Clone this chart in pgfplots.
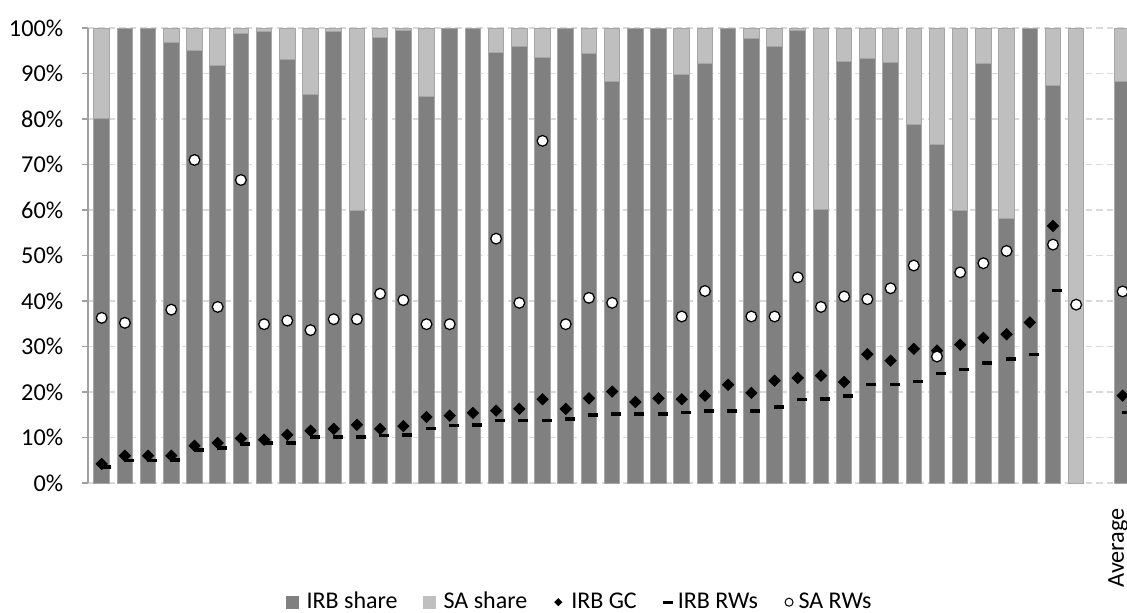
\documentclass[border=0pt]{standalone}
\usepackage{pgfplots}
\usepackage{pgfplotstable}
\pgfplotsset{compat=1.18}
\usepackage{fontspec}
\setmainfont{Carlito}
\definecolor{irb}{HTML}{808080}
\definecolor{sa}{HTML}{BFBFBF}
\definecolor{baredge}{HTML}{A6A6A6}
\definecolor{gridc}{HTML}{D9D9D9}
\definecolor{axisc}{HTML}{A0A0A0}

\pgfplotstableread{
x irb sa
0 80.2 19.8
1 100 0
2 100 0
3 96.8 3.2
4 95.1 4.9
5 91.8 8.2
6 98.9 1.1
7 99.2 0.8
8 93.0 7.0
9 85.3 14.7
10 99.2 0.8
11 60.0 40.0
12 97.9 2.1
13 99.4 0.6
14 84.9 15.1
15 100 0
16 100 0
17 94.7 5.3
18 96.0 4.0
19 93.5 6.5
20 100 0
21 94.3 5.7
22 88.3 11.7
23 100 0
24 100 0
25 89.7 10.3
26 92.1 7.9
27 100 0
28 97.6 2.4
29 96.0 4.0
30 99.4 0.6
31 60.2 39.8
32 92.7 7.3
33 93.2 6.8
34 92.4 7.6
35 78.8 21.2
36 74.4 25.6
37 60.0 40.0
38 92.1 7.9
39 58.1 41.9
40 100 0
41 87.3 12.7
42 0 100
44 88.2 11.8
}\shares

\pgfplotstableread{
x y
0 4.2
1 6.0
2 6.0
3 6.0
4 8.2
5 8.8
6 9.8
7 9.5
8 10.6
9 11.5
10 11.9
11 12.8
12 11.9
13 12.5
14 14.5
15 14.8
16 15.4
17 15.9
18 16.3
19 18.4
20 16.3
21 18.6
22 20.1
23 17.8
24 18.6
25 18.4
26 19.2
27 21.6
28 19.8
29 22.5
30 23.1
31 23.6
32 22.2
33 28.3
34 26.9
35 29.5
36 29.1
37 30.4
38 31.9
39 32.7
40 35.3
41 56.5
44 19.2
}\irbgc

\pgfplotstableread{
x y
0 3.5
1 4.9
2 4.9
3 5.1
4 7.3
5 7.7
6 8.6
7 8.8
8 8.8
9 10.1
10 10.1
11 10.1
12 10.4
13 10.6
14 12.0
15 12.6
16 12.8
17 13.7
18 13.7
19 13.7
20 14.1
21 15.0
22 15.2
23 15.2
24 15.2
25 15.5
26 15.8
27 15.8
28 15.8
29 16.7
30 18.3
31 18.5
32 19.1
33 21.7
34 21.7
35 22.3
36 24.1
37 25.0
38 26.4
39 27.3
40 28.2
41 42.3
44 15.5
}\irbrw

\pgfplotstableread{
x y
0 36.3
1 35.2
3 38.1
4 71.0
5 38.7
6 66.6
7 34.9
8 35.7
9 33.6
10 36.0
11 36.0
12 41.6
13 40.2
14 34.9
15 34.9
17 53.7
18 39.6
19 75.2
20 34.9
21 40.7
22 39.6
25 36.6
26 42.2
28 36.6
29 36.6
30 45.2
31 38.7
32 41.0
33 40.4
34 42.8
35 47.8
36 27.8
37 46.3
38 48.3
39 51.0
41 52.4
42 39.2
44 42.1
}\sarw

\pgfplotsset{
  common/.style={
    scale only axis, width=415.6pt, height=182pt,
    at={(0pt,0pt)}, anchor=south west,
    xmin=-0.59, xmax=44.19, ymin=0, ymax=100,
  }
}

\begin{document}
\begin{tikzpicture}[font=\fontsize{9.7}{12}\selectfont]
\useasboundingbox (-35.2pt,-51.6pt) rectangle (415.6pt,193.2pt);
\begin{axis}[common,
  ybar stacked, bar width=0.67,
  axis lines=left, axis line style={-, draw=axisc, line width=0.5pt},
  x axis line style={draw=none},
  ytick={0,10,...,100},
  yticklabel={\pgfmathprintnumber[assume math mode=true]{\tick}\%},
  yticklabel style={xshift=-4pt},
  ytick style={draw=axisc, line width=0.5pt},
  tick align=outside, major tick length=2.4pt,
  xtick={44}, xticklabels={Average},
  xtick style={draw=none},
  xticklabel style={yshift=-4.2pt, xshift=-1.8pt, rotate=90, anchor=east},
  ymajorgrids, grid style={gridc, dash pattern=on 2.6pt off 1.6pt, line width=0.5pt},
  tick label style={font=\fontsize{9.7}{11}\selectfont, text=black},
]
\addplot[fill=irb, draw=baredge, line width=0.4pt] table[x=x, y=irb]{\shares};
\addplot[fill=sa, draw=baredge, line width=0.4pt] table[x=x, y=sa]{\shares};
\end{axis}
\begin{axis}[common, hide axis,
  legend columns=5,
  legend style={at={(0.4745,-0.262)}, anchor=center, draw=none, fill=none,
    font=\fontsize{9.6}{12}\selectfont,
    /tikz/every even column/.append style={column sep=8pt}},
]
\addlegendimage{legend image code/.code={\path[draw=none, fill=none] (0pt,-2.4pt) rectangle (6.2pt,2.4pt); \fill[irb] (0pt,-2.4pt) rectangle (4.8pt,2.4pt);}}
\addlegendentry{IRB share}
\addlegendimage{legend image code/.code={\path[draw=none, fill=none] (0pt,-2.4pt) rectangle (6.2pt,2.4pt); \fill[sa] (0pt,-2.4pt) rectangle (4.8pt,2.4pt);}}
\addlegendentry{SA share}
\addlegendimage{legend image code/.code={\path[draw=none, fill=none] (0pt,-1pt) rectangle (5.6pt,1pt); \draw[black, mark=square*, mark size=0.95pt, mark options={rotate=45, fill=black}] plot coordinates {(2.4pt,0pt)};}}
\addlegendentry{IRB GC}
\addlegendimage{legend image code/.code={\path[draw=none, fill=none] (0pt,-1pt) rectangle (4.4pt,1pt); \draw[black, mark=-, mark size=2pt, mark options={line width=1.3pt}] plot coordinates {(2.4pt,0pt)};}}
\addlegendentry{IRB RWs}
\addlegendimage{legend image code/.code={\path[draw=none, fill=none] (0pt,-1pt) rectangle (4.2pt,1pt); \draw[black, mark=*, mark size=1.6pt, mark options={fill=white, draw=black, line width=0.4pt}] plot coordinates {(2.4pt,0pt)};}}
\addlegendentry{SA RWs}
\addplot[forget plot, only marks, mark=square*, mark size=1.55pt, mark options={rotate=45, fill=black, draw=black}] table[x=x, y=y]{\irbgc};
\addplot[forget plot, only marks, mark=-, mark size=2pt, mark options={draw=black, line width=1.4pt, xshift=1.6pt}] table[x=x, y=y]{\irbrw};
\addplot[forget plot, only marks, mark=*, mark size=2.15pt, mark options={fill=white, draw=black, line width=0.5pt}] table[x=x, y=y]{\sarw};
\end{axis}
\end{tikzpicture}
\end{document}
